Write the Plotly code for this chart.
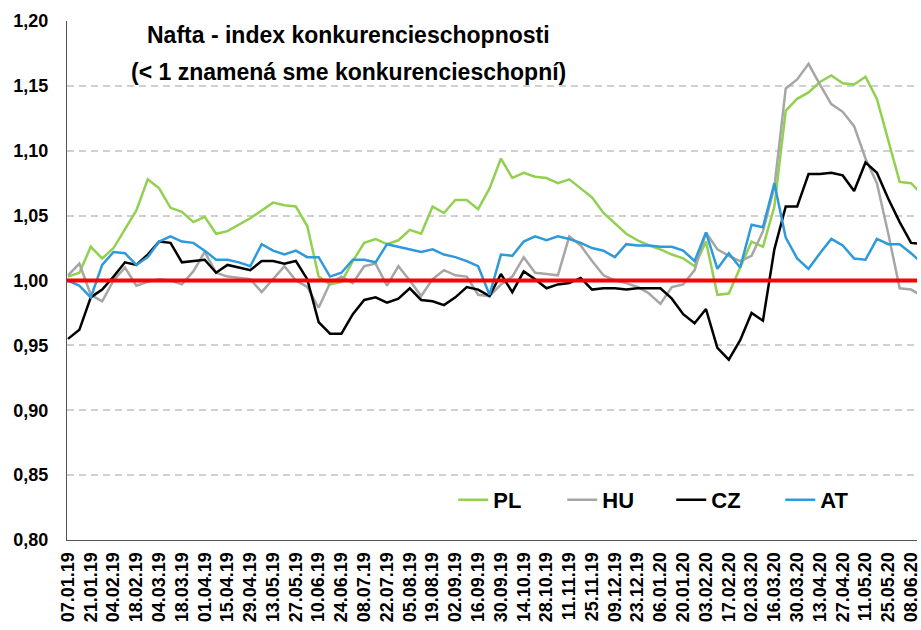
import pandas as pd
import plotly.graph_objects as go

weeks = pd.date_range("2019-01-07", periods=76, freq="7D").strftime("%d.%m.%y").tolist()

PL = [1.003, 1.006, 1.026, 1.017, 1.025, 1.040, 1.054, 1.078, 1.071, 1.056,
      1.053, 1.045, 1.049, 1.036, 1.038, 1.043, 1.048, 1.054, 1.060, 1.058,
      1.057, 1.042, 1.003, 0.997, 0.999, 1.015, 1.029, 1.032, 1.028, 1.031,
      1.039, 1.036, 1.057, 1.052, 1.062, 1.062, 1.055, 1.071, 1.094, 1.079,
      1.083, 1.080, 1.079, 1.075, 1.078, 1.071, 1.064, 1.052, 1.044, 1.036,
      1.031, 1.027, 1.024, 1.020, 1.017, 1.011, 1.030, 0.989, 0.990, 1.010,
      1.030, 1.026, 1.057, 1.131, 1.140, 1.145, 1.153, 1.158, 1.152, 1.151,
      1.157, 1.140, 1.109, 1.076, 1.075, 1.066]

HU = [1.004, 1.013, 0.989, 0.984, 1.000, 1.010, 0.996, 0.999, 1.001, 1.000,
      0.997, 1.007, 1.022, 1.006, 1.003, 1.002, 1.001, 0.991, 1.001, 1.011,
      1.000, 0.995, 0.979, 0.998, 1.003, 0.998, 1.011, 1.013, 0.996, 1.011,
      1.000, 0.988, 1.001, 1.008, 1.004, 1.003, 0.989, 0.988, 0.997, 1.003,
      1.018, 1.006, 1.005, 1.004, 1.034, 1.027, 1.015, 1.004, 1.000, 0.998,
      0.995, 0.990, 0.982, 0.995, 0.997, 1.008, 1.037, 1.024, 1.019, 1.015,
      1.019, 1.038, 1.072, 1.148, 1.155, 1.167, 1.151, 1.136, 1.130, 1.119,
      1.094, 1.075, 1.036, 0.994, 0.993, 0.988]

CZ = [0.955, 0.962, 0.987, 0.993, 1.003, 1.014, 1.012, 1.020, 1.030, 1.029,
      1.014, 1.015, 1.016, 1.006, 1.012, 1.010, 1.008, 1.015, 1.015, 1.013,
      1.015, 1.001, 0.968, 0.959, 0.959, 0.974, 0.985, 0.987, 0.983, 0.986,
      0.994, 0.985, 0.984, 0.981, 0.987, 0.995, 0.993, 0.988, 1.005, 0.991,
      1.007, 1.001, 0.994, 0.997, 0.998, 1.002, 0.993, 0.994, 0.994, 0.993,
      0.994, 0.994, 0.994, 0.986, 0.974, 0.967, 0.978, 0.948, 0.939, 0.954,
      0.975, 0.969, 1.024, 1.057, 1.057, 1.082, 1.082, 1.083, 1.081, 1.069,
      1.091, 1.083, 1.063, 1.045, 1.029, 1.028]

AT = [1.000, 0.996, 0.987, 1.012, 1.022, 1.021, 1.012, 1.018, 1.030, 1.034,
      1.030, 1.029, 1.023, 1.016, 1.016, 1.014, 1.011, 1.028, 1.023, 1.020,
      1.023, 1.018, 1.018, 1.003, 1.006, 1.016, 1.016, 1.014, 1.028, 1.026,
      1.024, 1.022, 1.024, 1.020, 1.018, 1.015, 1.011, 0.989, 1.020, 1.019,
      1.030, 1.034, 1.031, 1.034, 1.032, 1.029, 1.025, 1.023, 1.018, 1.028,
      1.027, 1.027, 1.026, 1.026, 1.023, 1.015, 1.037, 1.009, 1.021, 1.010,
      1.043, 1.041, 1.075, 1.033, 1.017, 1.009, 1.021, 1.032, 1.027, 1.017,
      1.016, 1.032, 1.028, 1.028, 1.021, 1.013]

series = [("PL", PL, "#92D050"), ("HU", HU, "#A6A6A6"),
          ("CZ", CZ, "#000000"), ("AT", AT, "#2E9ADB")]

tick_labels = weeks[::2]
y_ticks = [0.80, 0.85, 0.90, 0.95, 1.00, 1.05, 1.10, 1.15, 1.20]
y_tick_text = [f"{v:.2f}".replace(".", ",") for v in y_ticks]

FONT = "Liberation Sans, Arial, sans-serif"

fig = go.Figure()
for name, vals, col in series:
    fig.add_trace(go.Scatter(x=weeks, y=vals, name=name, mode="lines",
                             line=dict(color=col, width=2.5)))

fig.add_shape(type="line", xref="paper", yref="y", x0=0, x1=1, y0=1.0, y1=1.0,
              line=dict(color="#FF0000", width=4), layer="above")

fig.add_annotation(text="Nafta - index konkurencieschopnosti", xref="paper", yref="paper",
                   x=0.331, y=0.973, xanchor="center", yanchor="middle", showarrow=False,
                   font=dict(family=FONT, size=23, color="#000000", weight="bold"))
fig.add_annotation(text="(< 1 znamená sme konkurencieschopní)", xref="paper", yref="paper",
                   x=0.331, y=0.902, xanchor="center", yanchor="middle", showarrow=False,
                   font=dict(family=FONT, size=23, color="#000000", weight="bold"))

fig.update_layout(
    width=921, height=630,
    margin=dict(l=67, r=0, t=21, b=90),
    paper_bgcolor="white", plot_bgcolor="white",
    font=dict(family=FONT, color="#000000"),
    showlegend=True,
    legend=dict(orientation="h", x=0.4544, y=0.077, xanchor="left", yanchor="middle",
                bgcolor="rgba(0,0,0,0)", font=dict(family=FONT, size=22, weight="bold"),
                entrywidth=64, entrywidthmode="pixels", tracegroupgap=0),
    xaxis=dict(type="category", range=[-0.087, 74.52],
               tickmode="array", tickvals=tick_labels, ticktext=tick_labels,
               tickangle=-90, tickfont=dict(family=FONT, size=18, weight="bold"),
               showgrid=False, showline=True, linecolor="#555555", linewidth=1,
               ticks="", ticklabelstandoff=4, zeroline=False),
    yaxis=dict(range=[0.80, 1.20], tickmode="array", tickvals=y_ticks, ticktext=y_tick_text,
               tickfont=dict(family=FONT, size=18, weight="bold"),
               showgrid=True, gridcolor="#D0D0D0", gridwidth=1.5, griddash="7px,5px",
               showline=True, linecolor="#555555", linewidth=1,
               ticks="", ticklabelstandoff=14, zeroline=False),
)

fig.write_html("out.html", config={"displayModeBar": False},
               post_script="document.body.style.margin='0';document.body.style.overflow='hidden';")
